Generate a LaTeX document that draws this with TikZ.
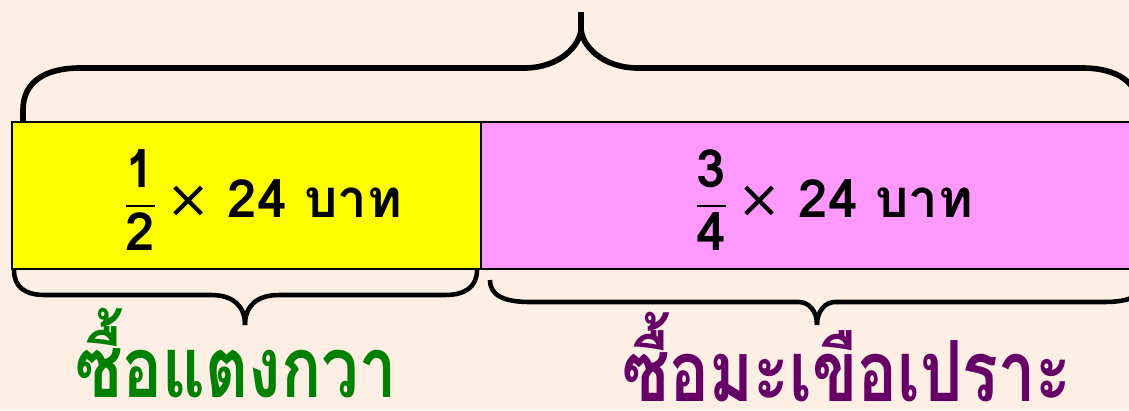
\documentclass[tikz,border=0pt]{standalone}
\usepackage{fontspec}
\usepackage{amsmath}
\newfontfamily\thaifont[Script=Thai]{Loma}
\newfontfamily\thainarrow[Script=Thai, FakeStretch=0.79]{Loma}
\newfontfamily\symbfont{DejaVu Sans}
\definecolor{bgpeach}{RGB}{253, 239, 228}
\definecolor{partyellow}{RGB}{255, 255, 0}
\definecolor{partpink}{RGB}{255, 153, 255}
\definecolor{cucgreen}{RGB}{0, 128, 0}
\definecolor{eggpurple}{RGB}{102, 0, 102}
\usetikzlibrary{positioning, calc}

\begin{document}
\begin{tikzpicture}[x=0.02cm, y=-0.02cm]
  % Canvas
  \clip (0,0) rectangle (1129,410);
  \fill[bgpeach] (0,0) rectangle (1129,410);

  % Bar split in two parts
  \draw[line width=1.2pt, fill=partyellow] (12,122) rectangle (481,269);
  \draw[line width=1.2pt, fill=partpink] (481,122) rectangle (1160,269);

  % Amounts
  \node[font=\thaifont\bfseries\fontsize{30}{32}\selectfont, inner sep=0pt] (half) at (263,200)
    {$\dfrac{\text{1}}{\text{2}}$\,{\symbfont\mdseries ×}\,\,24 บาท};
  \node[font=\thaifont\bfseries\fontsize{30}{32}\selectfont, inner sep=0pt] (threeq) at (834,200)
    {$\dfrac{\text{3}}{\text{4}}$\,{\symbfont\mdseries ×}\,\,24 บาท};

  % Brace over the whole bar
  \draw[line width=3.2pt] (23,122) -- (23,110) .. controls (23,82) and (45,68) .. (80,68) -- (524,68)
    .. controls (560,68) and (581,45) .. (581,28) -- (581,12);
  \draw[line width=3.2pt] (581,28) .. controls (581,45) and (602,68) .. (638,68) -- (1082,68)
    .. controls (1117,68) and (1139,82) .. (1139,110) -- (1139,122);

  % Braces under the parts
  \draw[line width=2.6pt] (14,270) .. controls (14,287) and (25,295) .. (45,295) -- (211,295)
    .. controls (232,295) and (245,305) .. (245,325);
  \draw[line width=2.6pt] (245,325) .. controls (245,305) and (258,295) .. (279,295) -- (445,295)
    .. controls (465,295) and (477,287) .. (477,270);
  \draw[line width=2.6pt] (490,280) .. controls (490,295) and (503,302) .. (530,302) -- (799,302)
    .. controls (808,302) and (817,310) .. (817,325);
  \draw[line width=2.6pt] (817,325) .. controls (817,310) and (826,302) .. (835,302) -- (1104,302)
    .. controls (1131,302) and (1144,295) .. (1144,280);

  % What was bought
  \node[font=\thainarrow\bfseries\fontsize{48}{50}\selectfont, text=cucgreen, anchor=base, inner sep=0pt, text depth=0pt] (cucumber) at (236,397) {ซื้อแตงกวา};
  \node[font=\thainarrow\bfseries\fontsize{48}{50}\selectfont, text=eggpurple, anchor=base, inner sep=0pt, text depth=0pt] (eggplant) at (847,401) {ซื้อมะเขือเปราะ};
\end{tikzpicture}
\end{document}
